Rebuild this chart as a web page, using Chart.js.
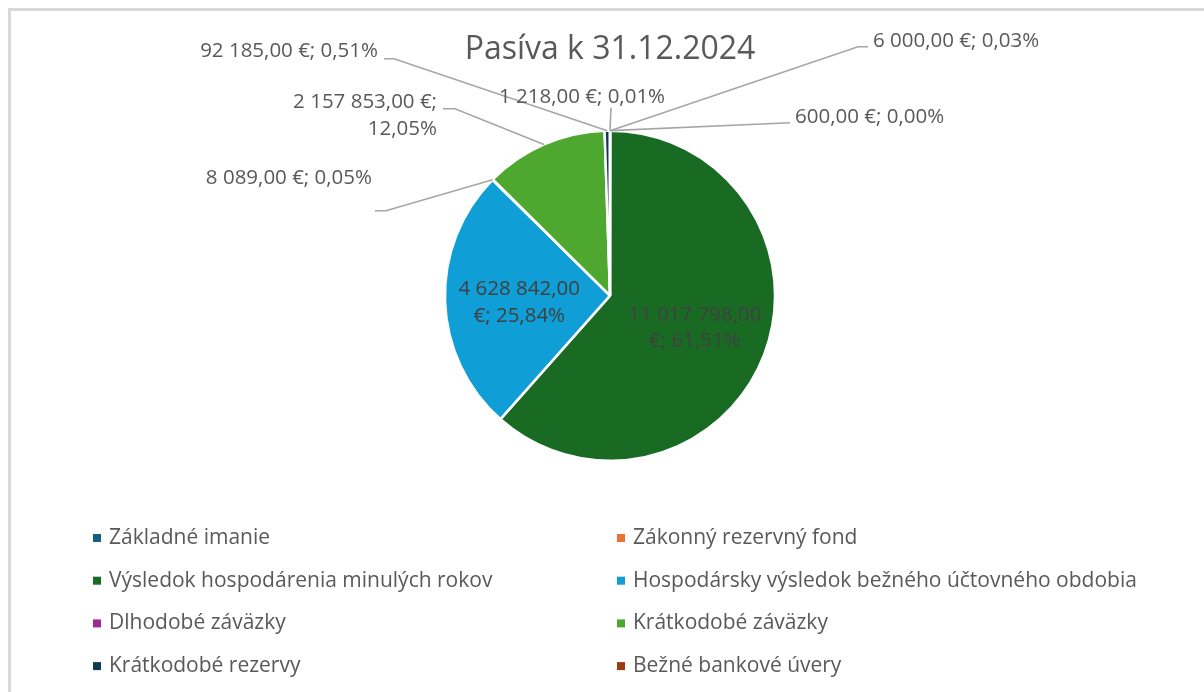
<!DOCTYPE html>
<html>
<head>
<meta charset="utf-8">
<script src="https://cdn.jsdelivr.net/npm/chart.js@4/dist/chart.umd.min.js"></script>
<style>
  body { margin: 0; background: #fff; overflow: hidden; }
  #frame { position: absolute; left: 8px; top: 8px; width: 1300px; height: 800px; border: 3px solid #d9d9d9; }
  #c { position: absolute; left: 0; top: 0; }
</style>
</head>
<body>
<div id="frame"></div>
<canvas id="c" width="1204" height="692"></canvas>
<script>
// DATA
const title = "Pasíva k 31.12.2024";
const categories = [
    "Základné imanie",
    "Zákonný rezervný fond",
    "Výsledok hospodárenia minulých rokov",
    "Hospodársky výsledok bežného účtovného obdobia",
    "Dlhodobé záväzky",
    "Krátkodobé záväzky",
    "Krátkodobé rezervy",
    "Bežné bankové úvery"
];
const values = [6000, 600, 11017798, 4628842, 8089, 2157853, 92185, 1218];
const colors = ["#156082", "#E97132", "#196B24", "#0F9ED5", "#A02B93", "#4EA72E", "#0D3A4E", "#9B3D12"];

const FONT = "'Open Sans', sans-serif";
const total = values.reduce((a, b) => a + b, 0);

function fmtEur(v) {
    const s = Math.round(v).toString().replace(/\B(?=(\d{3})+(?!\d))/g, " ");
    return s + ",00 €";
}
function fmtPct(v) {
    return (v / total * 100).toFixed(2).replace(".", ",") + "%";
}

// label layout, offsets from pie centre (px)
// inside: drawn in the slice; otherwise text pos, align, leader start + elbow
const labelLayout = [
    { dx: 263, dy: -255, align: "left", lead: [258, -249, 248, -249] },
    { dx: 185, dy: -179, align: "left", lead: [180, -173, 180, -173] },
    { inside: true },
    { inside: true },
    { dx: -238, dy: -118, align: "right", lead: [-235, -85, -224, -85] },
    { dx: -173, dy: -180, align: "right", wrap: true, lead: [-167, -187, -155, -187] },
    { dx: -232, dy: -245, align: "right", lead: [-226, -237, -216, -237] },
    { dx: -28, dy: -199, align: "center", lead: [1, -188, 1, -188] }
];

// LABELS + LEGEND
const labelsPlugin = {
    id: "pieLabels",
    afterDatasetsDraw(chart) {
        const ctx = chart.ctx;
        const arcs = chart.getDatasetMeta(0).data;
        ctx.save();
        ctx.font = "20.5px " + FONT;
        ctx.textBaseline = "middle";
        arcs.forEach((arc, i) => {
            const L = labelLayout[i];
            const p = arc.getProps(["x", "y", "startAngle", "endAngle", "outerRadius"], true);
            const mid = (p.startAngle + p.endAngle) / 2;
            let lines;
            if (L.inside) lines = [fmtEur(values[i]).replace(" €", ""), "€; " + fmtPct(values[i])];
            else if (L.wrap) lines = [fmtEur(values[i]) + ";", fmtPct(values[i])];
            else lines = [fmtEur(values[i]) + "; " + fmtPct(values[i])];
            let tx, ty;
            if (L.inside) {
                tx = p.x + Math.cos(mid) * p.outerRadius * 0.55;
                ty = p.y + Math.sin(mid) * p.outerRadius * 0.55 + (i === 3 ? 4 : 0);
                ctx.fillStyle = "#404040";
                ctx.textAlign = "center";
            } else {
                tx = p.x + L.dx;
                ty = p.y + L.dy;
                ctx.fillStyle = "#595959";
                ctx.textAlign = L.align;
                // leader line
                const ex = p.x + Math.cos(mid) * p.outerRadius;
                const ey = p.y + Math.sin(mid) * p.outerRadius;
                ctx.strokeStyle = "#a6a6a6";
                ctx.lineWidth = 1.6;
                ctx.beginPath();
                ctx.moveTo(p.x + L.lead[0], p.y + L.lead[1]);
                ctx.lineTo(p.x + L.lead[2], p.y + L.lead[3]);
                ctx.lineTo(ex, ey);
                ctx.stroke();
            }
            const lh = 26.5;
            lines.forEach((t, k) => {
                ctx.fillText(t, tx, ty + (k - (lines.length - 1) / 2) * lh);
            });
        });
        ctx.restore();
    },
    afterDraw(chart) {
        const ctx = chart.ctx;
        ctx.save();
        ctx.font = "21px " + FONT;
        ctx.textBaseline = "middle";
        ctx.textAlign = "left";
        categories.forEach((c, i) => {
            const col = i % 2, row = Math.floor(i / 2);
            const x = col === 0 ? 93 : 617;
            const y = 538 + row * 42.7;
            ctx.fillStyle = colors[i];
            ctx.fillRect(x, y - 4, 8, 8);
            ctx.fillStyle = "#595959";
            ctx.fillText(c, x + 16, y);
        });
        ctx.restore();
    }
};

const chart = new Chart(document.getElementById("c"), {
    type: "pie",
    data: {
        labels: categories,
        datasets: [{
            data: values,
            backgroundColor: colors,
            borderColor: "#ffffff",
            borderWidth: 2.5,
            hoverOffset: 0
        }]
    },
    options: {
        responsive: false,
        animation: false,
        layout: { padding: { top: 18, bottom: 230, left: 310, right: 294 } },
        plugins: {
            legend: { display: false },
            tooltip: { enabled: false },
            title: {
                display: true,
                text: title,
                color: "#595959",
                font: { family: FONT, size: 32, weight: "normal" },
                padding: { top: 13, bottom: 60 }
            }
        }
    },
    plugins: [labelsPlugin]
});
</script>
</body>
</html>
